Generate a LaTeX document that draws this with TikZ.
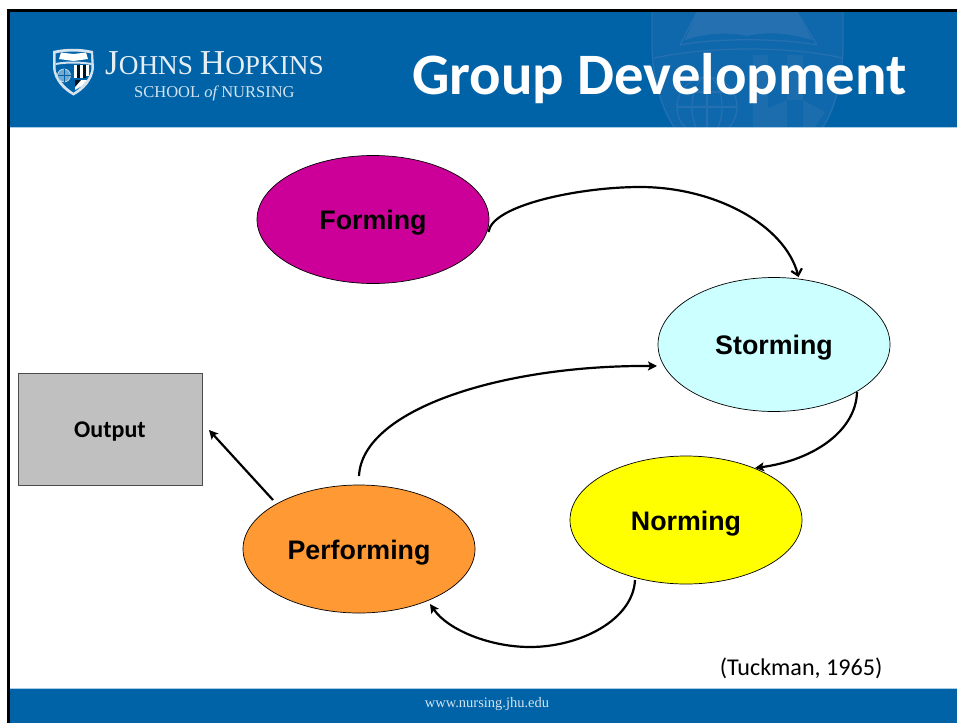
\documentclass[tikz,border=0pt]{standalone}
\usepackage{fontspec}
\setmainfont{Liberation Sans}
\newfontfamily\carlito{Carlito}
\newfontfamily\libserif{Liberation Serif}
\usetikzlibrary{shapes.geometric,arrows.meta}
\definecolor{jhblue}{HTML}{0063A8}
\definecolor{jhwater}{HTML}{2470B0}
\definecolor{jhfaint}{HTML}{0F68AB}
\definecolor{jhpale}{HTML}{A9CDE6}
\definecolor{logopale}{HTML}{D5E3EF}
\definecolor{formc}{HTML}{CC0099}
\definecolor{stormc}{HTML}{CCFFFF}
\definecolor{normc}{HTML}{FFFF00}
\definecolor{perfc}{HTML}{FF9933}
\definecolor{outc}{HTML}{C0C0C0}
\newcommand{\lowered}[2]{\raisebox{-#1}[0pt][0pt]{#2}}
\tikzset{
  stage/.style={ellipse,draw=black,line width=.7pt,minimum width=232pt,minimum height=128pt,inner sep=0pt,text=black,
    font=\fontsize{26.8}{30}\selectfont\bfseries},
  flow/.style={line width=2.2pt,draw=black,-{Stealth[length=9pt,width=9pt,inset=2pt]}},
  openflow/.style={line width=2.2pt,draw=black,-{Straight Barb[length=6pt,width=11pt,line width=2.2pt]}},
  water/.style={draw=jhwater,line width=1.3pt},
}
\begin{document}
\begin{tikzpicture}[x=1pt,y=-1pt]
\useasboundingbox (0,0) rectangle (957,723);
\fill[white] (0,0) rectangle (957,723);
% frame and bands
\fill[jhblue] (8,11) rectangle (957,127);
\fill[jhblue] (8,688) rectangle (957,723);
\fill[black] (7,9) rectangle (957,12);
\fill[black] (7,9) rectangle (10,723);
\fill[jhpale] (10,126.5) rectangle (957,128);
\fill[jhpale] (10,687.6) rectangle (957,688.5);
% watermark shield
\begin{scope}
\clip (10,12) rectangle (957,126.5);
\fill[jhfaint] (652,12) -- (652,50) .. controls (654,85) and (662,108) .. (674,127) -- (823,127) .. controls (835,108) and (841,85) .. (843,50) -- (843,12) -- cycle;
\draw[water] (652,12) -- (652,50) .. controls (654,85) and (662,108) .. (674,127);
\draw[water] (843,12) -- (843,50) .. controls (841,85) and (835,108) .. (823,127);
\fill[jhwater] (697,12) -- (797,12) -- (812,40) .. controls (785,32) and (765,32) .. (747,36) .. controls (730,32) and (705,33) .. (685,40) -- cycle;
\draw[water] (680,45) .. controls (715,38) and (780,38) .. (817,45);
\draw[water] (697,12) -- (680,45) (797,12) -- (817,45);
\draw[water] (654,58) .. controls (710,46) and (790,46) .. (842,58);
\fill[jhwater!75!jhblue] (753,55) rectangle (768,127);
\fill[jhwater!75!jhblue] (787,55) rectangle (803,100);
\fill[jhwater!75!jhblue] (768,108) -- (787,100) -- (787,127) -- (768,127) -- cycle;
\fill[jhwater!75!jhblue] (803,100) -- (825,112) -- (815,127) -- (803,127) -- cycle;
\draw[water] (707,107) circle (30);
\draw[water] (677,107) -- (737,107);
\draw[water] (681,92) -- (733,92);
\draw[water] (707,77) -- (707,127);
\draw[water] (707,107) ellipse (15 and 30);
\end{scope}
% logo
\fill[logopale] (53,51) .. controls (66,48) and (80,48) .. (93,51) -- (94,68) .. controls (93,80) and (84,90) .. (73.5,95.5) .. controls (63,90) and (54,80) .. (53,68) -- cycle;
\fill[jhblue] (55.5,53.5) .. controls (66,51) and (80,51) .. (91,53.5) -- (91.5,68) .. controls (90.5,78) and (82,87) .. (73.5,92.5) .. controls (65,87) and (56.5,78) .. (55.5,68) -- cycle;
\fill[white] (61,52.5) -- (73.5,54) -- (86,52.5) -- (88,59) -- (73.5,61) -- (59,59) -- cycle;
\fill[logopale] (55.5,63) .. controls (66,61) and (80,61) .. (91.5,63) -- (91.5,65) .. controls (80,63) and (66,63) .. (55.5,65) -- cycle;
\fill[jhblue!55!white] (64,75.5) circle (6.5);
\draw[logopale,line width=.6pt] (64,75.5) circle (6.5);
\draw[jhblue,line width=.4pt] (57.5,75.5) -- (70.5,75.5) (64,69) -- (64,82);
\fill[white] (74,65) rectangle (77,78);
\fill[white] (80,65) rectangle (83,78);
\fill[white] (86,65) rectangle (89,76);
\fill[black!80!jhblue] (77,65) rectangle (80,78);
\fill[black!80!jhblue] (83,65) rectangle (86,78);
\fill[white] (75,80) -- (87,80) -- (82,86) -- (75,90) -- cycle;
\fill[black!80!jhblue] (75,80) -- (81,80) -- (75,87) -- cycle;
\node[text=logopale!60!white,anchor=base west,inner sep=0pt,font=\libserif] (jhu) at (105,74)
  {{\fontsize{35}{35}\selectfont J}{\fontsize{27.3}{35}\selectfont OHNS }{\fontsize{35}{35}\selectfont H}{\fontsize{27.3}{35}\selectfont OPKINS}};
\node[text=logopale,anchor=base west,inner sep=0pt,font=\libserif] (son) at (134,97)
  {\fontsize{16.5}{18}\selectfont SCHOOL {\itshape of} NURSING};
% title
\node[text=white,anchor=base west,inner sep=0pt,font={\carlito\fontsize{58.7}{64}\selectfont\bfseries}] (title) at (412,94.5) {Group Development};
\node[text=logopale,inner sep=0pt,font={\libserif\fontsize{14.5}{16}\selectfont}] (web) at (487,704) {www.nursing.jhu.edu};
% stages
\node[stage,fill=formc] (forming) at (373,219.5) {\lowered{10pt}{Forming}};
\node[stage,fill=stormc,minimum height=134pt] (storming) at (774,344.5) {\lowered{10pt}{Storming}};
\node[stage,fill=normc] (norming) at (686,520) {\lowered{10pt}{Norming}};
\node[stage,fill=perfc] (performing) at (359,549) {\lowered{10pt}{Performing}};
\node[draw=black!70,line width=.8pt,fill=outc,minimum width=184pt,minimum height=112pt,inner sep=0pt,
  font={\carlito\fontsize{24}{26}\selectfont\bfseries}] (output) at (110,429) {\lowered{8pt}{Output}};
\node[anchor=base east,inner sep=0pt,font={\carlito\fontsize{24.1}{26}\selectfont}] (cite) at (882.5,675) {(Tuckman, 1965)};
% free ends
\coordinate (c1s) at (488.5,232);
\coordinate (c1e) at (798.5,277);
\coordinate (c2s) at (857,392);
\coordinate (c2e) at (755,468);
\coordinate (c3s) at (635,580);
\coordinate (c3e) at (430,604);
\coordinate (c4s) at (359,476);
\coordinate (c4e) at (657,366);
\coordinate (c5s) at (273,500);
\coordinate (c5e) at (209,430);
% connectors
\draw[openflow] (c1s) .. controls (492,205) and (580,187) .. (640,187) .. controls (715,187) and (785,225) .. (c1e);
\draw[flow] (c2s) .. controls (856,430) and (815,460) .. (c2e);
\draw[flow] (c3s) .. controls (633,620) and (580,647) .. (530,647) .. controls (490,647) and (448,630) .. (c3e);
\draw[flow] (c4s) .. controls (362,410) and (500,365) .. (c4e);
\draw[flow] (c5s) -- (c5e);
\end{tikzpicture}
\end{document}
